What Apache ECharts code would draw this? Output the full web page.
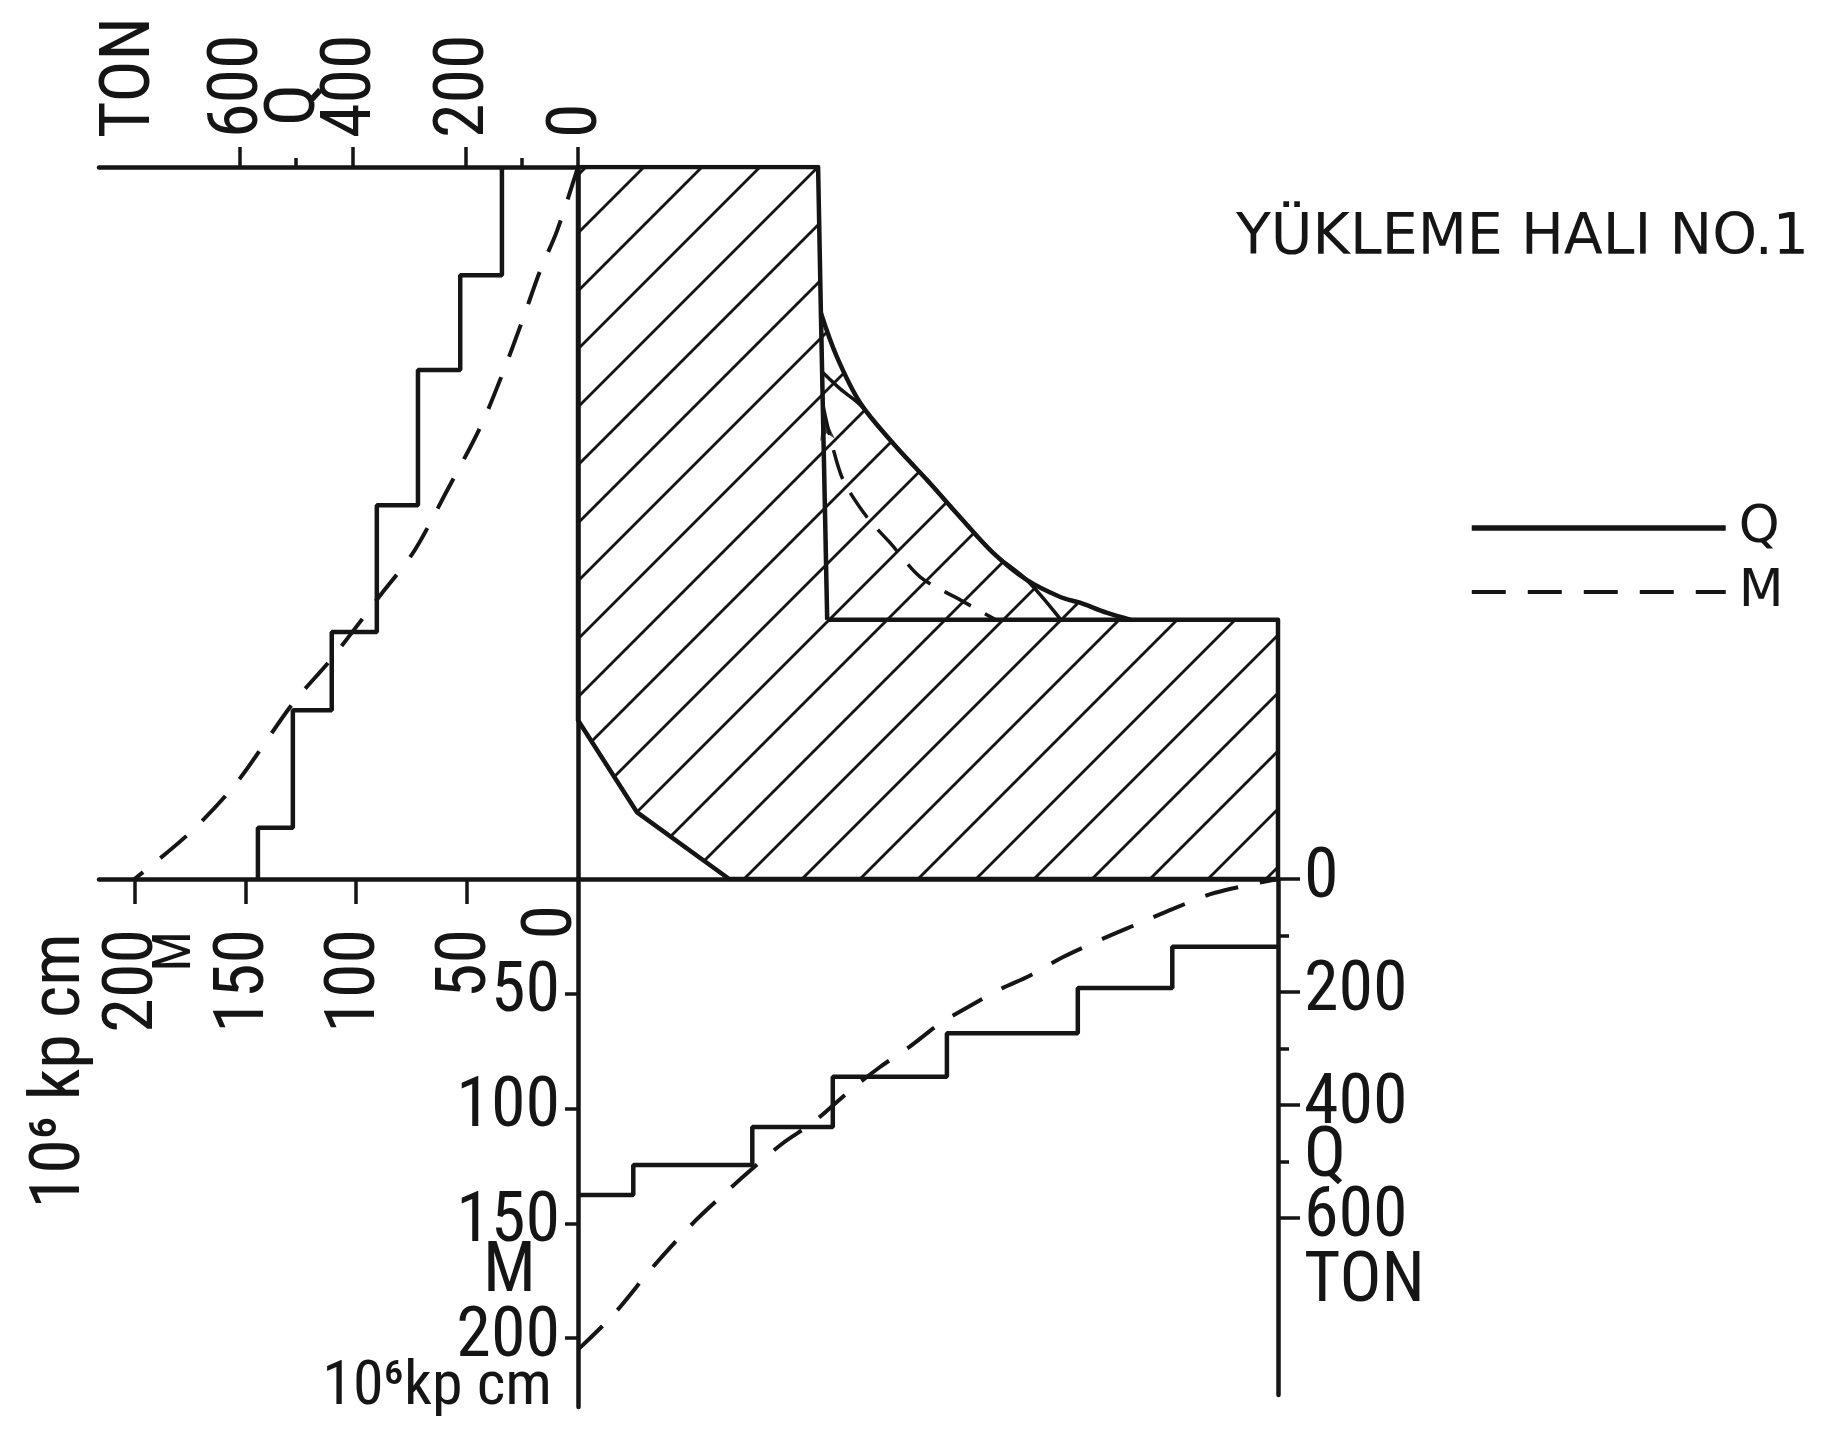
<!DOCTYPE html>
<html>
<head>
<meta charset="utf-8">
<script src="https://cdn.jsdelivr.net/npm/echarts@6.0.0/dist/echarts.min.js"></script>
<style>
html,body{margin:0;padding:0;background:#ffffff;}
#chart{width:1838px;height:1448px;}
</style>
</head>
<body>
<div id="chart"></div>
<script>
// ---------------- data ----------------
// Side (vertical wall, top-left quadrant): position z from the top edge (0) to the bottom line (100)
const sidePos = [0, 15.2, 28.5, 47.5, 65.3, 76.3, 92.8, 100];
const sideQ   = [135, 209, 284, 357, 437, 506, 568];               // ton
const sideMPos = [0, 9, 14.5, 21.5, 29, 36.5, 46, 54, 60.5, 69, 75.5, 86.5, 93.5, 100];
const sideM    = [0, 9.5, 17, 25, 34, 44, 60, 74, 90, 111, 129, 154, 175, 200]; // 10^6 kp cm

// Bottom (horizontal, bottom-right quadrant): position u from the left wall (0) to the right end (100)
const bottomPos = [0, 7.9, 24.9, 36.4, 52.7, 71.4, 84.9, 100];
const bottomQ   = [559, 506, 439, 350, 273, 193, 120];             // ton
const bottomMPos = [0, 5, 10.7, 16.4, 21.3, 24.6, 29.3, 33.6, 39.3, 43.1, 47.4, 51.7, 55.6, 60.3, 64.6, 69.3, 75, 80, 85, 91, 100];
const bottomM    = [205, 190, 169, 150, 136, 127, 115, 106, 91, 82, 73, 63, 56, 48, 42, 34, 26, 19.5, 13, 6, 0];

// Hatched section outline (u, z); indices 2..13 are the curved edge
const sectionU = [0, 34.3, 34.7, 37.0, 40.3, 45.0, 49.9, 54.6, 59.3, 64.1, 68.9, 71.7, 75.5, 79.0, 100, 100, 21.6, 8.4, 0];
const sectionZ = [0, 0, 20.5, 26.7, 33.1, 38.8, 44.0, 49.2, 54.2, 58.0, 60.4, 61.2, 62.6, 63.6, 63.6, 100, 100, 90.6, 77.7];
const webU = [34.7, 35.6],  webZ = [20.5, 63.6];
const floorU = [35.6, 79.0], floorZ = [63.6, 63.6];
const innerU = [35.0, 37.5, 40.3, 45.0, 49.9, 54.6, 59.3, 64.1, 69.0];
const innerZ = [28.9, 31.2, 33.4, 38.8, 44.0, 49.2, 54.2, 58.0, 63.6];
const arrowU = [35.0, 36.3, 37.9, 41.3, 44.6, 48.9, 54.6, 59.7];
const arrowZ = [33.5, 39.0, 44.0, 49.2, 52.8, 57.6, 60.8, 63.6];

// Ticks and tick labels
const qTicks = [0, 200, 400, 600];
const qMinorTop = [100, 500];
const qMinorRight = [100, 300, 500];
const mTicks = [50, 100, 150, 200];
const topQLabelVals = [0, 200, 400, 600, 792];
const topQLabelText = ['0', '200', '400', '600', 'TON'];
const topQNameVals = [500];
const topQNameText = ['Q'];
const sideMLabelVals = [50, 100, 150, 200];
const sideMLabelText = ['50', '100', '150', '200'];
const sideZeroVals = [11];
const sideZeroText = ['0'];
const sideMNameVals = [181];
const sideMNameText = ['M'];
const botMLabelVals = [50, 100, 150, 200];
const botMLabelText = ['50', '100', '150', '200'];
const botMNameVals = [172];
const botMNameText = ['M'];
const botMUnitVals = [222];
const botMUnitText = ['10⁶kp cm'];
const rightQLabelVals = [0, 200, 400, 600];
const rightQLabelText = ['0', '200', '400', '600'];
const rightQNameVals = [495, 715];
const rightQNameText = ['Q', 'TON'];

// ---------------- styling ----------------
const INK = '#151515';
const NUM_FONT = "'Liberation Sans Narrow', 'Roboto Condensed', Roboto, sans-serif";
const NUM_SIZE = 70;
const LINE_W = 4.5;

const hatch = (function () {
  const c = document.createElement('canvas');
  c.width = 58; c.height = 58;
  const g = c.getContext('2d');
  g.strokeStyle = INK; g.lineWidth = 2.8;
  [-1, 57, 115].forEach(function (k) {
    g.beginPath(); g.moveTo(-10, k + 10); g.lineTo(k + 10, -10); g.stroke();
  });
  return c;
})();

function stepPoints(vals, breaks, valueOnX) {
  const pts = [];
  vals.forEach(function (v, i) {
    pts.push(valueOnX ? [v, breaks[i]] : [breaks[i], v]);
    pts.push(valueOnX ? [v, breaks[i + 1]] : [breaks[i + 1], v]);
  });
  return pts;
}
function zip(a, b) { return a.map(function (v, i) { return [v, b[i]]; }); }
function pick(vals, texts) {
  return function (v) { const i = vals.indexOf(v); return i < 0 ? '' : texts[i]; };
}
const sectionPts = zip(sectionU, sectionZ);
const curvePts = sectionPts.slice(2, 14);
const straightPts = sectionPts.slice(13).concat(sectionPts.slice(0, 3));

const axisLine = { show: true, onZero: false, lineStyle: { color: INK, width: LINE_W } };
const noLine = { show: false, onZero: false };
const tickStyle = { color: INK, width: 3.5 };
const labelBase = { color: INK, fontFamily: NUM_FONT, fontSize: NUM_SIZE, showMinLabel: true, showMaxLabel: true, hideOverlap: false };

// helper: an axis that only carries extra text labels on the same scale
function textAxis(base, vals, texts, labelOpts) {
  return Object.assign({}, base, {
    axisLine: noLine, axisTick: { show: false }, splitLine: { show: false },
    axisLabel: Object.assign({}, labelBase, { customValues: vals, formatter: pick(vals, texts) }, labelOpts)
  });
}
const topQBase = { type: 'value', gridIndex: 0, position: 'top', inverse: true, min: 0, max: 850 };
const sideMBase = { type: 'value', gridIndex: 0, position: 'bottom', inverse: true, min: 0, max: 216 };
const botMBase = { type: 'value', gridIndex: 2, position: 'left', inverse: true, min: 0, max: 230 };
const rightQBase = { type: 'value', gridIndex: 3, position: 'right', inverse: true, min: 0, max: 913 };

const chart = echarts.init(document.getElementById('chart'), null, { renderer: 'canvas' });
chart.setOption({
  animation: false,
  backgroundColor: '#ffffff',
  textStyle: { fontFamily: NUM_FONT, color: INK },
  title: {
    text: 'YÜKLEME HALI NO.1', left: 1236, top: 211, padding: 0,
    textStyle: { fontFamily: "'DejaVu Sans', sans-serif", fontSize: 57, fontWeight: 'normal', color: INK }
  },
  legend: {
    data: [
      { name: 'Q', lineStyle: { width: 5.5, color: INK } },
      { name: 'M', lineStyle: { width: 4, color: INK, type: [34, 22] } }
    ],
    orient: 'vertical', left: 1469, top: 502, padding: 0,
    itemWidth: 254, itemHeight: 20, itemGap: 12, selectedMode: false,
    itemStyle: { opacity: 0 },
    textStyle: { fontFamily: "'DejaVu Sans', sans-serif", fontSize: 52, color: INK, padding: [0, 0, 0, 8] }
  },
  grid: [
    { left: 99, top: 167, width: 479, height: 712, outerBoundsMode: 'none', containLabel: false },
    { left: 578, top: 167, width: 700, height: 712, outerBoundsMode: 'none', containLabel: false },
    { left: 578, top: 879, width: 700, height: 528, outerBoundsMode: 'none', containLabel: false },
    { left: 578, top: 879, width: 700, height: 516, outerBoundsMode: 'none', containLabel: false }
  ],
  xAxis: [
    Object.assign({}, topQBase, { // 0 : Q scale on the top line (top-left quadrant)
      axisLine: axisLine, splitLine: { show: false },
      axisTick: { show: true, customValues: qTicks, length: 20, lineStyle: tickStyle },
      axisLabel: Object.assign({}, labelBase, {
        customValues: topQLabelVals, rotate: -90, margin: 29,
        formatter: pick(topQLabelVals, topQLabelText)
      })
    }),
    Object.assign({}, topQBase, { // 1 : minor ticks of the top Q scale
      axisLine: noLine, splitLine: { show: false }, axisLabel: { show: false },
      axisTick: { show: true, customValues: qMinorTop, length: 9, lineStyle: tickStyle }
    }),
    Object.assign({}, sideMBase, { // 2 : M scale on the middle line (top-left quadrant)
      axisLine: axisLine, splitLine: { show: false },
      axisTick: { show: true, customValues: mTicks, length: 25, lineStyle: tickStyle },
      axisLabel: Object.assign({}, labelBase, {
        customValues: sideMLabelVals, rotate: 90, margin: 50,
        formatter: pick(sideMLabelVals, sideMLabelText)
      }),
      name: '10⁶ kp cm', nameLocation: 'end', nameGap: 38, nameRotate: 90,
      nameTextStyle: { fontFamily: NUM_FONT, fontSize: NUM_SIZE, color: INK, align: 'right', verticalAlign: 'middle', padding: [0, 54, 0, 0] }
    }),
    { type: 'value', gridIndex: 1, min: 0, max: 100, show: false, axisLine: noLine, splitLine: { show: false } },
    { // 4 : middle line over the bottom-right quadrant
      type: 'value', gridIndex: 2, position: 'top', min: 0, max: 100,
      axisLine: axisLine, axisTick: { show: false }, axisLabel: { show: false }, splitLine: { show: false }
    },
    { type: 'value', gridIndex: 3, position: 'top', min: 0, max: 100, show: false, axisLine: noLine, splitLine: { show: false } },
    textAxis(sideMBase, sideZeroVals, sideZeroText, { rotate: 90, margin: 26 }),                 // 6 : "0"
    textAxis(sideMBase, sideMNameVals, sideMNameText, { rotate: 90, margin: 52, fontSize: 54 }), // 7 : "M"
    textAxis(Object.assign({}, topQBase, { offset: 12 }), topQNameVals, topQNameText, { rotate: -90, margin: 29 }) // 8 : "Q"
  ],
  yAxis: [
    { // 0 : side position (vertical wall line)
      type: 'value', gridIndex: 0, position: 'right', inverse: true, min: 0, max: 100,
      axisLine: axisLine, axisTick: { show: false }, axisLabel: { show: false }, splitLine: { show: false }
    },
    { type: 'value', gridIndex: 1, inverse: true, min: 0, max: 100, show: false, axisLine: noLine, splitLine: { show: false } },
    Object.assign({}, botMBase, { // 2 : M scale (bottom-right quadrant, left)
      axisLine: axisLine, splitLine: { show: false },
      axisTick: { show: true, customValues: mTicks, length: 13, lineStyle: tickStyle },
      axisLabel: Object.assign({}, labelBase, {
        customValues: botMLabelVals, margin: 18, formatter: pick(botMLabelVals, botMLabelText)
      })
    }),
    Object.assign({}, rightQBase, { // 3 : Q scale (bottom-right quadrant, right)
      axisLine: axisLine, splitLine: { show: false },
      axisTick: { show: true, customValues: qTicks, length: 22, lineStyle: tickStyle },
      axisLabel: Object.assign({}, labelBase, {
        customValues: rightQLabelVals, margin: 26, formatter: pick(rightQLabelVals, rightQLabelText)
      })
    }),
    Object.assign({}, rightQBase, { // 4 : minor ticks of the right Q scale
      axisLine: noLine, splitLine: { show: false }, axisLabel: { show: false },
      axisTick: { show: true, customValues: qMinorRight, length: 11, lineStyle: tickStyle }
    }),
    textAxis(botMBase, botMNameVals, botMNameText, { margin: 42 }),                 // 5 : "M"
    textAxis(botMBase, botMUnitVals, botMUnitText, { margin: 26, fontSize: 62 }),   // 6 : unit
    textAxis(rightQBase, rightQNameVals, rightQNameText, { margin: 26 })            // 7 : "Q", "TON"
  ],
  series: [
    { // hatched section (fill)
      type: 'custom', name: 'section', xAxisIndex: 3, yAxisIndex: 1, silent: true, z: 1,
      data: sectionPts,
      renderItem: function (params, api) {
        if (params.dataIndex !== 0) return null;
        const pts = sectionPts.map(function (p) { return api.coord(p); });
        return { type: 'polygon', shape: { points: pts },
          style: { fill: { image: hatch, repeat: 'repeat' }, stroke: null } };
      }
    },
    { type: 'line', name: 'outline', xAxisIndex: 3, yAxisIndex: 1, data: straightPts, symbol: 'none', silent: true,
      lineStyle: { color: INK, width: LINE_W, join: 'round' }, z: 3 },
    { type: 'line', name: 'curve', xAxisIndex: 3, yAxisIndex: 1, data: curvePts, symbol: 'none', silent: true,
      smooth: 0.35, lineStyle: { color: INK, width: LINE_W }, z: 3 },
    { type: 'line', name: 'web', xAxisIndex: 3, yAxisIndex: 1, data: zip(webU, webZ), symbol: 'none', silent: true,
      lineStyle: { color: INK, width: LINE_W }, z: 3 },
    { type: 'line', name: 'floor', xAxisIndex: 3, yAxisIndex: 1, data: zip(floorU, floorZ), symbol: 'none', silent: true,
      lineStyle: { color: INK, width: LINE_W }, z: 3 },
    { type: 'line', name: 'inner', xAxisIndex: 3, yAxisIndex: 1, data: zip(innerU, innerZ), symbol: 'none', silent: true,
      smooth: 0.3, lineStyle: { color: INK, width: 3.5 }, z: 3 },
    { type: 'line', name: 'arrow', xAxisIndex: 3, yAxisIndex: 1, data: zip(arrowU, arrowZ), symbol: 'none', silent: true,
      smooth: 0.3, lineStyle: { color: INK, width: 3.5, type: [30, 16] }, z: 3 },
    { type: 'scatter', name: 'arrowhead', xAxisIndex: 3, yAxisIndex: 1, data: [[arrowU[0], arrowZ[0] + 1.2]], silent: true,
      symbol: 'arrow', symbolSize: [11, 26], symbolRotate: 10, itemStyle: { color: INK }, z: 4 },
    { type: 'line', name: 'Q', xAxisIndex: 0, yAxisIndex: 0, data: stepPoints(sideQ, sidePos, true), symbol: 'none',
      lineStyle: { color: INK, width: LINE_W }, itemStyle: { color: INK }, z: 5 },
    { type: 'line', name: 'M', xAxisIndex: 2, yAxisIndex: 0, data: zip(sideM, sideMPos), symbol: 'none', smooth: 0.3,
      lineStyle: { color: INK, width: 4, type: [34, 22] }, itemStyle: { color: INK }, z: 5 },
    { type: 'line', name: 'Q', xAxisIndex: 5, yAxisIndex: 3, data: stepPoints(bottomQ, bottomPos, false), symbol: 'none',
      lineStyle: { color: INK, width: LINE_W }, itemStyle: { color: INK }, z: 5 },
    { type: 'line', name: 'M', xAxisIndex: 4, yAxisIndex: 2, data: zip(bottomMPos, bottomM), symbol: 'none', smooth: 0.3,
      lineStyle: { color: INK, width: 4, type: [34, 22] }, itemStyle: { color: INK }, z: 5 }
  ]
});
</script>
</body>
</html>
